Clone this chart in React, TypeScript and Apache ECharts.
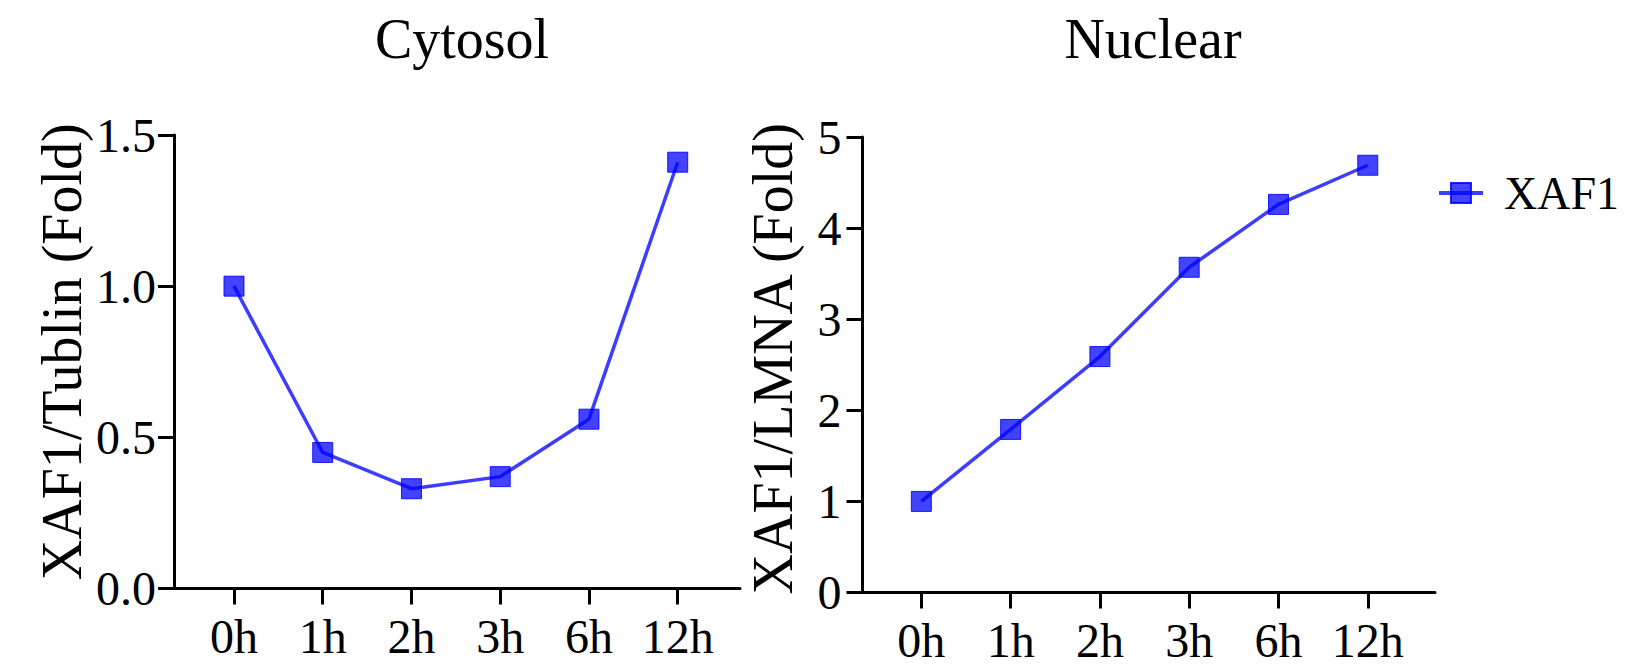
import React, { useEffect, useRef } from 'react';
import * as echarts from 'echarts';

const categories = ['0h', '1h', '2h', '3h', '6h', '12h'];
const cytosolValues = [1.0, 0.45, 0.33, 0.37, 0.56, 1.41];
const nuclearValues = [1.0, 1.79, 2.59, 3.57, 4.26, 4.69];
const cytosolTicks = [0, 0.5, 1.0, 1.5];
const nuclearTicks = [0, 1, 2, 3, 4, 5];
const seriesName = 'XAF1';
const panelTitles = ['Cytosol', 'Nuclear'];
const yAxisNames = ['XAF1/Tublin (Fold)', 'XAF1/LMNA (Fold)'];

const FONT = '"Liberation Serif", "Times New Roman", Times, serif';
const BLACK = '#000000';

export default function App() {
  const ref = useRef<HTMLDivElement | null>(null);

  useEffect(() => {
    document.body.style.margin = '0';
    if (!ref.current) return;
    const chart = echarts.init(ref.current, undefined, { renderer: 'svg' });
    const idx = categories.map((_, i) => i);

    const axisLine = { show: true, onZero: false, lineStyle: { color: BLACK, width: 3 } };
    const axisTick = { show: true, length: 16, lineStyle: { color: BLACK, width: 3 } };
    const labelStyle = { color: BLACK, fontFamily: FONT, fontSize: 48 };

    const xAxisFor = (gridIndex: number, min: number, max: number) => ({
      gridIndex,
      type: 'value',
      min,
      max,
      splitLine: { show: false },
      axisLine,
      axisTick: { ...axisTick, customValues: idx },
      axisLabel: {
        ...labelStyle,
        customValues: idx,
        margin: 24,
        formatter: (v: number) => categories[Math.round(v)] ?? '',
      },
    });

    const yAxisFor = (
      gridIndex: number,
      ticks: number[],
      decimals: number,
      name: string,
      nameGap: number,
      margin: number,
      shift: number
    ) => ({
      gridIndex,
      type: 'value',
      min: ticks[0],
      max: ticks[ticks.length - 1],
      interval: ticks[1] - ticks[0],
      splitLine: { show: false },
      axisLine,
      axisTick,
      axisLabel: { ...labelStyle, margin, formatter: (v: number) => v.toFixed(decimals) },
      name,
      nameLocation: 'middle',
      nameGap,
      nameTextStyle: {
        color: BLACK,
        fontFamily: FONT,
        fontSize: 56,
        padding: [0, 0, 0, shift],
      },
    });

    const lineStyle = { color: 'rgba(0,0,255,0.76)', width: 3.5 };
    const itemStyle = {
      color: 'rgba(0,0,255,0.74)',
      borderColor: 'rgba(0,0,255,0.85)',
      borderWidth: 1,
    };

    const option = {
      animation: false,
      backgroundColor: '#ffffff',
      title: [
        {
          text: panelTitles[0],
          left: 457,
          top: 6,
          textAlign: 'center',
          textStyle: { color: BLACK, fontFamily: FONT, fontSize: 56, fontWeight: 'normal' },
        },
        {
          text: panelTitles[1],
          left: 1148,
          top: 6,
          textAlign: 'center',
          textStyle: { color: BLACK, fontFamily: FONT, fontSize: 56, fontWeight: 'normal' },
        },
      ],
      legend: {
        data: [seriesName],
        left: 1437,
        top: 170,
        padding: 0,
        itemWidth: 44,
        itemHeight: 25,
        selectedMode: false,
        lineStyle: { width: 4, color: 'rgba(0,0,255,0.76)' },
        textStyle: { color: BLACK, fontFamily: FONT, fontSize: 46, padding: [0, 0, 0, 16] },
      },
      grid: [
        { left: 174, top: 135, width: 566, height: 453.5 },
        { left: 862.5, top: 137, width: 572.5, height: 455.5 },
      ],
      xAxis: [xAxisFor(0, -0.676, 5.702), xAxisFor(1, -0.659, 5.753)],
      yAxis: [
        yAxisFor(0, cytosolTicks, 1, yAxisNames[0], 84, 18, 20),
        yAxisFor(1, nuclearTicks, 0, yAxisNames[1], 62, 21, 12),
      ],
      series: [
        {
          type: 'line',
          name: seriesName,
          xAxisIndex: 0,
          yAxisIndex: 0,
          data: cytosolValues.map((v, i) => [i, v]),
          symbol: 'rect',
          symbolSize: 20,
          lineStyle,
          itemStyle,
        },
        {
          type: 'line',
          name: seriesName,
          xAxisIndex: 1,
          yAxisIndex: 1,
          data: nuclearValues.map((v, i) => [i, v]),
          symbol: 'rect',
          symbolSize: 20,
          lineStyle,
          itemStyle,
        },
      ],
    };

    chart.setOption(option as any);
    return () => chart.dispose();
  }, []);

  return <div ref={ref} style={{ width: 1633, height: 668 }} />;
}
